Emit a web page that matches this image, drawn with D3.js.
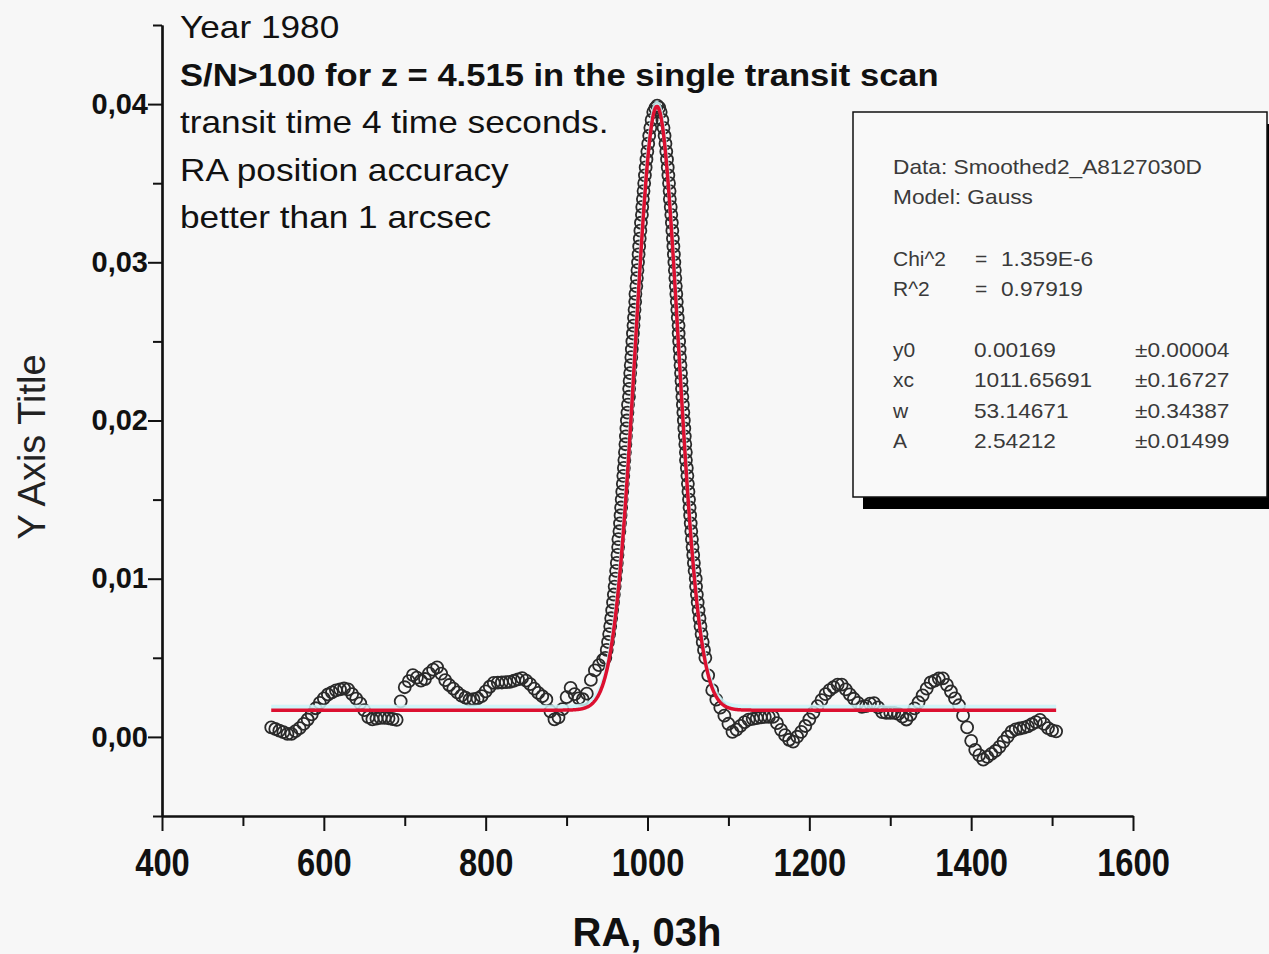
<!DOCTYPE html>
<html>
<head>
<meta charset="utf-8">
<title>Transit scan, Gauss fit</title>
<script src="https://cdn.jsdelivr.net/npm/d3@7"></script>
<style>
  body { margin: 0; background: #f7f7f7; }
  svg { display: block; font-family: "Liberation Sans", Arial, sans-serif; }
</style>
</head>
<body>
<svg id="chart" width="1269" height="954"></svg>
<script>

// smoothed scan (RA, signal)
var leftRA = [535,540,545,550,555,560,565,570,575,580,585,590,595,600,605,610,615,620,625,630,
  635,640,645,650,655,660,665,670,675,680,685,690,695,700,705,710,715,720,725,730,
  735,740,745,750,755,760,765,770,775,780,785,790,795,800,805,810,815,820,825,830,
  835,840,845,850,855,860,865,870,875,880,885,890,895,900,905,910,915,920,925,930,
  935,940,945];
var leftSignal = [0.00060,0.00050,0.00040,0.00030,0.00019,0.00019,0.00037,0.00055,0.00082,0.00110,
  0.00142,0.00181,0.00215,0.00243,0.00268,0.00281,0.00294,0.00301,0.00306,0.00301,
  0.00271,0.00242,0.00212,0.00169,0.00125,0.00111,0.00116,0.00120,0.00120,0.00118,
  0.00113,0.00108,0.00225,0.00314,0.00352,0.00391,0.00375,0.00356,0.00366,0.00402,
  0.00425,0.00440,0.00400,0.00359,0.00328,0.00305,0.00281,0.00261,0.00248,0.00235,
  0.00238,0.00243,0.00258,0.00288,0.00317,0.00341,0.00343,0.00344,0.00346,0.00348,
  0.00355,0.00363,0.00371,0.00356,0.00334,0.00305,0.00278,0.00257,0.00237,0.00162,
  0.00111,0.00123,0.00175,0.00252,0.00310,0.00270,0.00244,0.00238,0.00273,0.00360,
  0.00420,0.00454,0.00487];

// peak flanks: RA where the scan crosses each signal level
var peakLevel = [0.0050,0.0055,0.0060,0.0065,0.0070,0.0075,0.0080,0.0085,0.0090,0.0095,
  0.0100,0.0105,0.0110,0.0115,0.0120,0.0125,0.0130,0.0135,0.0140,0.0145,
  0.0150,0.0155,0.0160,0.0165,0.0170,0.0175,0.0180,0.0185,0.0190,0.0195,
  0.0200,0.0205,0.0210,0.0215,0.0220,0.0225,0.0230,0.0235,0.0240,0.0245,
  0.0250,0.0255,0.0260,0.0265,0.0270,0.0275,0.0280,0.0285,0.0290,0.0295,
  0.0300,0.0305,0.0310,0.0315,0.0320,0.0325,0.0330,0.0335,0.0340,0.0345,
  0.0350,0.0355,0.0360,0.0365,0.0370,0.0375,0.0380,0.0385,0.0390,0.0395];
var peakLeftRA = [947.9,949.6,951.2,952.6,953.9,955.1,956.3,957.4,958.4,959.4,
  960.3,961.2,962.1,962.9,963.7,964.0,965.3,966.0,966.7,967.4,
  968.1,968.8,969.5,970.1,970.8,971.4,972.1,972.7,973.3,973.9,
  974.5,975.2,975.9,977.1,977.3,977.9,978.6,979.3,980.0,980.6,
  981.3,982.0,982.7,983.3,984.0,984.8,985.1,986.2,986.9,987.6,
  988.3,989.0,989.7,990.4,991.2,991.9,993.1,993.5,994.3,995.1,
  995.9,996.8,997.7,998.7,999.8,1000.9,1002.1,1003.5,1005.1,1007.1];
var peakRightRA = [1071.5,1069.8,1068.2,1066.8,1065.5,1064.3,1063.1,1062.0,1061.0,1060.0,
  1059.6,1058.2,1057.3,1056.5,1055.7,1054.9,1054.1,1053.4,1052.7,1052.0,
  1051.3,1050.6,1049.9,1049.3,1048.6,1047.5,1047.4,1046.7,1046.1,1045.5,
  1044.9,1044.3,1043.7,1043.1,1042.6,1042.0,1041.4,1040.8,1040.2,1039.7,
  1039.1,1038.5,1038.4,1037.4,1036.8,1036.2,1035.6,1035.0,1034.4,1033.8,
  1033.2,1032.6,1032.0,1031.4,1030.7,1030.1,1029.4,1028.7,1027.6,1027.3,
  1026.6,1025.8,1025.0,1024.1,1023.2,1022.2,1021.1,1019.8,1018.4,1016.3];
var apexRA = [1009.5, 1012, 1014.5];
var apexSignal = [0.03975, 0.03990, 0.03978];

var rightRA = [1075,1080,1085,1090,1095,1100,1105,1110,1115,1120,1125,1130,1135,1140,1145,1150,
  1155,1160,1165,1170,1175,1180,1185,1190,1195,1200,1205,1210,1215,1220,1225,1230,
  1235,1240,1245,1250,1255,1260,1265,1270,1275,1280,1285,1290,1295,1300,1305,1310,
  1315,1320,1325,1330,1335,1340,1345,1350,1355,1360,1365,1370,1375,1380,1385,1390,
  1395,1400,1405,1410,1415,1420,1425,1430,1435,1440,1445,1450,1455,1460,1465,1470,
  1475,1480,1485,1490,1495,1500,1505];
var rightSignal = [0.00389,0.00295,0.00236,0.00185,0.00134,0.00083,0.00032,0.00046,0.00070,0.00094,
  0.00109,0.00114,0.00119,0.00124,0.00126,0.00126,0.00126,0.00087,0.00045,0.00011,
  -0.00018,-0.00030,0.00001,0.00032,0.00069,0.00111,0.00153,0.00194,0.00233,0.00270,
  0.00296,0.00314,0.00331,0.00330,0.00300,0.00269,0.00241,0.00215,0.00190,0.00195,
  0.00210,0.00214,0.00186,0.00157,0.00152,0.00152,0.00152,0.00145,0.00128,0.00110,
  0.00140,0.00180,0.00219,0.00262,0.00305,0.00344,0.00356,0.00369,0.00370,0.00329,
  0.00287,0.00243,0.00200,0.00134,0.00060,-0.00025,-0.00082,-0.00115,-0.00144,-0.00126,
  -0.00107,-0.00089,-0.00063,-0.00030,0.00001,0.00033,0.00048,0.00053,0.00059,0.00066,
  0.00080,0.00094,0.00107,0.00082,0.00056,0.00041,0.00035];

// Gauss fit from the results box
var fitY0 = 0.00169, fitXc = 1011.65691, fitW = 53.14671, fitA = 2.54212;
var fitRange = [535, 1505];

var boxHead = ["Data: Smoothed2_A8127030D", "Model: Gauss"];
var statNames = ["Chi^2", "R^2"];
var statValues = ["1.359E-6", "0.97919"];
var paramNames = ["y0", "xc", "w", "A"];
var paramValues = ["0.00169", "1011.65691", "53.14671", "2.54212"];
var paramErrors = ["\u00b10.00004", "\u00b10.16727", "\u00b10.34387", "\u00b10.01499"];

var xTicks = [400, 600, 800, 1000, 1200, 1400, 1600];
var xMinor = [500, 700, 900, 1100, 1300, 1500];
var yTicks = [0, 0.01, 0.02, 0.03, 0.04];
var yMinor = [-0.005, 0.005, 0.015, 0.025, 0.035, 0.045];

var notes = ["Year 1980",
  "S/N>100 for z = 4.515 in the single transit scan",
  "transit time 4 time seconds.",
  "RA position accuracy",
  "better than 1 arcsec"];

var svg = d3.select("#chart");

var x = d3.scaleLinear().domain([400, 1600]).range([162, 1133]);
var y = d3.scaleLinear().domain([-0.005, 0.045]).range([816, 25]);

// squeeze/stretch a text node to k times its natural width
function stretch(sel, k) {
  sel.each(function() {
    var n = this.getComputedTextLength();
    d3.select(this).attr("textLength", n * k).attr("lengthAdjust", "spacingAndGlyphs");
  });
}

// ---- scan points ----
var scan = [];
leftRA.forEach(function(r, i) { scan.push([r, leftSignal[i]]); });
peakLevel.forEach(function(v, i) { scan.push([peakLeftRA[i], v]); });
apexRA.forEach(function(r, i) { scan.push([r, apexSignal[i]]); });
peakLevel.slice().reverse().forEach(function(v, i) {
  var j = peakLevel.length - 1 - i;
  scan.push([peakRightRA[j], v]);
});
rightRA.forEach(function(r, i) { scan.push([r, rightSignal[i]]); });

svg.append("g")
  .selectAll("circle")
  .data(scan)
  .enter().append("circle")
    .attr("cx", function(d) { return x(d[0]); })
    .attr("cy", function(d) { return y(d[1]); })
    .attr("r", 6)
    .attr("fill", "none")
    .attr("stroke", "#2a2a2a")
    .attr("stroke-width", 1.8);

// ---- fit curve ----
function gauss(r) {
  var u = (r - fitXc) / fitW;
  return fitY0 + fitA / (fitW * Math.sqrt(Math.PI / 2)) * Math.exp(-2 * u * u);
}
var fitLine = d3.line()
  .x(function(d) { return x(d); })
  .y(function(d) { return y(gauss(d)); });
var fitX = d3.range(fitRange[0], fitRange[1] + 0.5, 0.5);

svg.append("path")
  .datum(fitX)
  .attr("d", fitLine)
  .attr("transform", "translate(0,-3.5)")
  .attr("fill", "none")
  .attr("stroke", "#c9f4f8")
  .attr("stroke-width", 4)
  .attr("opacity", 0.85);

svg.append("path")
  .datum(fitX)
  .attr("d", fitLine)
  .attr("fill", "none")
  .attr("stroke", "#dc1030")
  .attr("stroke-width", 3.5);

// ---- axes ----
var comma = d3.formatLocale({decimal: ",", thousands: ".", grouping: [3], currency: ["", ""]}).format(".2f");

function styleAxis(g) {
  g.selectAll("path.domain").attr("stroke", "#111").attr("stroke-width", 2.2);
  g.selectAll(".tick line").attr("stroke", "#111").attr("stroke-width", 2);
}

var gx = svg.append("g").attr("transform", "translate(0,816)");
gx.append("g").call(d3.axisBottom(x).tickValues(xMinor).tickSize(10).tickSizeOuter(0).tickFormat(""))
  .call(styleAxis);
var gxMajor = gx.append("g").call(d3.axisBottom(x).tickValues(xTicks).tickSize(15).tickSizeOuter(0).tickFormat(d3.format("d")))
  .call(styleAxis);
gxMajor.selectAll("text")
  .attr("y", 33)
  .attr("dy", "0.71em")
  .attr("fill", "#111")
  .style("font-size", "38px")
  .style("font-weight", "bold")
  .style("font-family", "'Liberation Sans', Arial, sans-serif")
  .call(stretch, 0.86);

var gy = svg.append("g").attr("transform", "translate(162,0)");
gy.append("g").call(d3.axisLeft(y).tickValues(yMinor).tickSize(9).tickSizeOuter(0).tickFormat(""))
  .call(styleAxis);
var gyMajor = gy.append("g").call(d3.axisLeft(y).tickValues(yTicks).tickSize(14).tickSizeOuter(0).tickFormat(comma))
  .call(styleAxis);
gyMajor.selectAll("text")
  .attr("x", -14)
  .attr("fill", "#111")
  .style("font-size", "29px")
  .style("font-weight", "bold")
  .style("font-family", "'Liberation Sans', Arial, sans-serif");

svg.append("text")
  .attr("x", 647).attr("y", 946)
  .attr("text-anchor", "middle")
  .attr("fill", "#111")
  .style("font-size", "40px")
  .style("font-weight", "bold")
  .text("RA, 03h");

svg.append("text")
  .attr("transform", "translate(45,447) rotate(-90)")
  .attr("text-anchor", "middle")
  .attr("fill", "#222")
  .style("font-size", "38px")
  .text("Y Axis Title");

// ---- notes at top left ----
svg.append("g").selectAll("text")
  .data(notes)
  .enter().append("text")
    .attr("x", 180)
    .attr("y", function(d, i) { return 38 + i * 47.6; })
    .attr("fill", "#111")
    .style("font-size", "32px")
    .style("font-weight", function(d, i) { return i === 1 ? "bold" : "normal"; })
    .text(function(d) { return d; })
    .each(function(d, i) { d3.select(this).call(stretch, i === 1 ? 1.08 : 1.1); });

// ---- fit results box ----
var box = svg.append("g");
box.append("rect")
  .attr("x", 863).attr("y", 124).attr("width", 420).attr("height", 385)
  .attr("fill", "#000");
box.append("rect")
  .attr("x", 853).attr("y", 112).attr("width", 414).attr("height", 385)
  .attr("fill", "#f9f9f9")
  .attr("stroke", "#111")
  .attr("stroke-width", 1.5);

var boxText = box.append("g")
  .attr("fill", "#3a3a3a")
  .style("font-size", "21px");

boxText.selectAll("text.head")
  .data(boxHead)
  .enter().append("text")
    .attr("class", "head")
    .attr("x", 893)
    .attr("y", function(d, i) { return 174 + i * 30.3; })
    .text(function(d) { return d; })
    .call(stretch, 1.08);

statNames.forEach(function(s, i) {
  var yy = 266 + i * 30.3;
  boxText.append("text").attr("x", 893).attr("y", yy).text(s);
  boxText.append("text").attr("x", 975).attr("y", yy).text("=");
  boxText.append("text").attr("x", 1001).attr("y", yy).text(statValues[i]).call(stretch, 1.08);
});

paramNames.forEach(function(p, i) {
  var yy = 357 + i * 30.3;
  boxText.append("text").attr("x", 893).attr("y", yy).text(p);
  boxText.append("text").attr("x", 974).attr("y", yy).text(paramValues[i]).call(stretch, 1.08);
  boxText.append("text").attr("x", 1135).attr("y", yy).text(paramErrors[i]).call(stretch, 1.08);
});

</script>
</body>
</html>
